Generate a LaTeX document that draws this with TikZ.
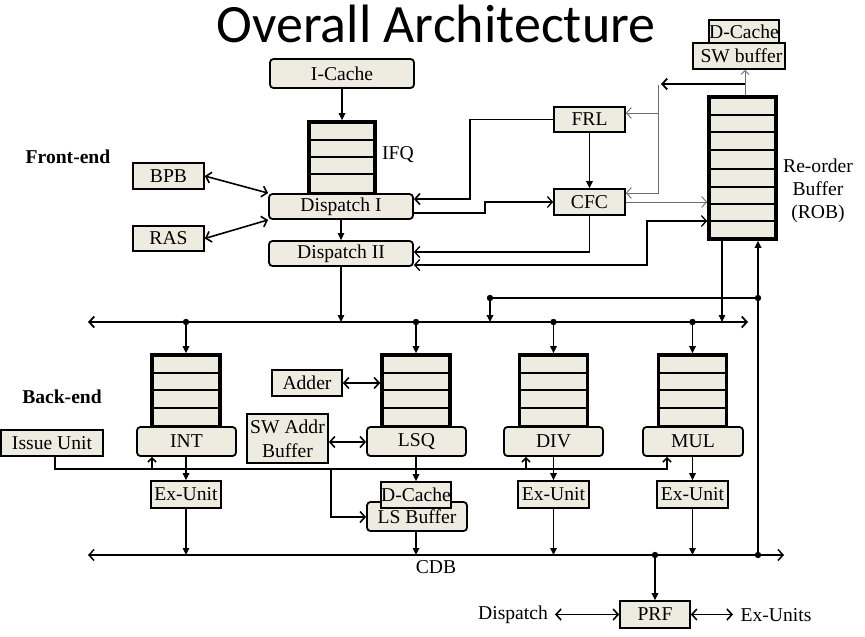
\documentclass[tikz,border=0pt]{standalone}
\usepackage{fontspec}
\setmainfont{Liberation Serif}
\newfontfamily\titlefont{Carlito}
\usetikzlibrary{arrows.meta}
\definecolor{bg}{HTML}{EEECE1}
\definecolor{thingray}{RGB}{110,110,110}
\newcommand\tsz{\fontsize{19.6}{23}\selectfont}
\tikzset{
  Chev/.tip={Straight Barb[length=5pt,width=11pt]},
  Tri/.tip={Triangle[length=7pt,width=6.5pt]},
  SmallChev/.tip={Straight Barb[length=4pt,width=8pt]}
}
\begin{document}
\begin{tikzpicture}[x=1pt,y=-1pt,
  every node/.style={font=\tsz, inner sep=0pt},
  rbox/.style={draw, fill=bg, rounded corners=3.5pt, line width=1.8pt},
  sbox/.style={draw, fill=bg, line width=1.6pt},
  queue/.style={draw, fill=bg, line width=3.6pt},
  rowline/.style={line width=2pt},
  conn/.style={line width=1.6pt},
  thinconn/.style={line width=0.9pt, draw=thingray},
  lbl/.style={font=\tsz},
  boldlbl/.style={font=\tsz\bfseries}
]
\useasboundingbox (0,0) rectangle (865,637);

% title
\node[font=\titlefont\fontsize{54}{60}\selectfont, anchor=base] (title) at (436,42) {Overall Architecture};

% ---------- front end ----------
\node[rbox, minimum width=144pt, minimum height=29pt] (icache) at (342,73.5) {I-Cache};
\node[queue, minimum width=66pt, minimum height=72pt] (ifq) at (342,158) {};
\foreach \yy in {140,157,174} \draw[rowline] (ifq.west |- 0,\yy) -- (ifq.east |- 0,\yy);
\node[rbox, minimum width=144pt, minimum height=25pt] (disp1) at (341,206.5) {Dispatch I};
\node[rbox, minimum width=144pt, minimum height=25pt] (disp2) at (341,253.5) {Dispatch II};
\node[lbl, anchor=west] (ifqlbl) at (382,155) {IFQ};
\node[boldlbl] (front) at (68,157) {Front-end};
\node[sbox, minimum width=71pt, minimum height=26pt] (bpb) at (168.5,176) {BPB};
\node[sbox, minimum width=71pt, minimum height=25pt] (ras) at (168.5,238.5) {RAS};

\node[sbox, minimum width=71pt, minimum height=25pt] (frl) at (589.5,119.5) {FRL};
\node[sbox, minimum width=71pt, minimum height=26pt] (cfc) at (589.5,202) {CFC};

% ROB
\node[queue, minimum width=67pt, minimum height=142pt] (rob) at (742.5,168) {};
\foreach \yy in {115,132,150,169,187,204,221} \draw[rowline] (rob.west |- 0,\yy) -- (rob.east |- 0,\yy);
\node[lbl, align=center] (roblbl) at (818,191) {Re-order\\Buffer\\(ROB)};

\node[sbox, minimum width=70pt, minimum height=23pt] (dctop) at (744,31.5) {D-Cache};
\node[sbox, minimum width=92pt, minimum height=26pt] (swbuf) at (739,56) {\hspace*{5pt}SW buffer};

% front-end connectors
\draw[conn, -Tri] (icache.south) -- (ifq.north);
\draw[conn, Chev-Chev] (bpb.east) -- (disp1.north west);
\draw[conn, Chev-Chev] (ras.east) -- (disp1.south west);
\draw[line width=1.2pt, -Tri] (disp1.south) -- (disp2.north);
\draw[conn, -Chev] (frl.west) -| (470,199) -- (disp1.east |- 0,199);
\draw[line width=1.3pt, -Chev] (disp1.east |- 0,213) -- (485,213) |- (cfc.west);
\draw[conn, -Tri] (frl.south) -- (cfc.north);
\draw[line width=1.3pt, -Chev] (cfc.south) |- (disp2.east |- 0,252);
\draw[line width=1.3pt, Chev-Chev] (disp2.east |- 0,265) -| (647,221) -- (rob.west |- 0,221);
\draw[thinconn, -Chev] (cfc.east) -- (rob.west |- cfc.east);
\coordinate (vtop) at (658,85);
\coordinate (vbot) at (658,193);
\draw[thinconn, -Chev] (vtop) -- (vbot) -- (cfc.east |- vbot);
\draw[thinconn, -Chev] (658,113) -- (frl.east |- 0,113);
\draw[thinconn, -SmallChev] (rob.north -| 745,0) -- (swbuf.south -| 745,0);
\coordinate (robout) at (745,84);
\coordinate (robarr) at (661,84);
\draw[line width=1.8pt, -Chev] (robout) -- (robarr);

% ---------- dispatch bus ----------
\coordinate (busL) at (88,322);
\coordinate (busR) at (748,322);
\draw[line width=1.8pt, Chev-Chev] (busL) -- (busR);
\draw[line width=1.2pt, -Tri] (disp2.south) -- (disp2.south |- busL);
\draw[line width=1.2pt, -Tri] (rob.south -| 722,0) -- (722,322);
\coordinate (cdbL) at (88,555);
\coordinate (cdbR) at (784,555);
\coordinate (jA) at (490,298);
\coordinate (jB) at (758,298);
\coordinate (jC) at (758,555);
\draw[line width=1.5pt] (jA) -- (jB);
\draw[line width=2pt, -Tri] (jA) -- (490,322);
\draw[line width=2pt, -Tri] (jC) -- (rob.south -| jC);
\foreach \p in {jA,jB,jC} \fill (\p) circle (3.2pt);

% ---------- back end ----------
\node[boldlbl] (back) at (62,397) {Back-end};
\foreach \n/\cx in {intq/186, lsqq/416, divq/553.5, mulq/692.5} {
  \node[queue, minimum width=68pt, minimum height=72pt] (\n) at (\cx,391) {};
  \foreach \yy in {373,390,408} \draw[rowline] (\n.west |- 0,\yy) -- (\n.east |- 0,\yy);
  \fill (\cx,322) circle (3.2pt);
  \draw[conn, -Tri] (\cx,322) -- (\n.north);
}
\node[rbox, minimum width=99pt, minimum height=29pt] (intb) at (186.5,441.5) {INT};
\node[rbox, minimum width=99pt, minimum height=29pt] (lsqb) at (416.5,441.5) {LSQ};
\node[rbox, minimum width=99pt, minimum height=29pt] (divb) at (553.5,441.5) {DIV};
\node[rbox, minimum width=100pt, minimum height=29pt] (mulb) at (693,441.5) {MUL};

\node[sbox, minimum width=70pt, minimum height=26pt] (adder) at (307,383) {Adder};
\node[sbox, minimum width=81pt, minimum height=49pt, align=center, font=\fontsize{19.6}{24}\selectfont] (swaddr) at (287.5,438.5) {SW Addr\\Buffer};
\node[sbox, minimum width=102pt, minimum height=26pt] (issue) at (52,443) {Issue Unit};

\draw[conn, Chev-Chev] (adder.east) -- (lsqq.west |- adder.east);
\draw[conn, Chev-Chev] (swaddr.east |- 0,442) -- (lsqb.west |- 0,442);

% issue line
\coordinate (iss0) at (55,469);
\coordinate (iss1) at (668,469);
\draw[conn] (issue.south -| iss0) -- (iss0) -- (iss1);
\draw[conn, -SmallChev] (152,469) -- (intb.south -| 152,0);
\draw[conn, -SmallChev] (526,469) -- (divb.south -| 526,0);
\draw[conn, -SmallChev] (667,469) -- (mulb.south -| 667,0);

% exec units
\node[sbox, minimum width=70pt, minimum height=27pt] (exint) at (186,494.5) {Ex-Unit};
\node[sbox, minimum width=71pt, minimum height=27pt] (exdiv) at (553.5,494.5) {Ex-Unit};
\node[sbox, minimum width=71pt, minimum height=27pt] (exmul) at (692.5,494.5) {Ex-Unit};
\node[rbox, minimum width=100pt, minimum height=29pt] (lsbuf) at (417,516.5) {\raisebox{-5pt}{LS Buffer}};
\node[sbox, minimum width=70pt, minimum height=26pt] (dclow) at (416,495) {D-Cache};

\draw[conn, -Chev] (331,469) |- (lsbuf.west |- 0,517);
\draw[conn, -Tri] (intb.south -| exint.north) -- (exint.north);
\draw[conn, -Tri] (lsqb.south -| dclow.north) -- (dclow.north);
\draw[conn, -Tri] (divb.south -| exdiv.north) -- (exdiv.north);
\draw[conn, -Tri] (mulb.south -| exmul.north) -- (exmul.north);

% CDB
\draw[line width=1.5pt, Chev-Chev] (cdbL) -- (cdbR);
\node[lbl] (cdblbl) at (436,567) {CDB};
\draw[conn, -Tri] (exint.south) -- (exint.south |- cdbL);
\draw[conn, -Tri] (lsbuf.south -| 416,0) -- (416,555);
\draw[conn, -Tri] (exdiv.south) -- (exdiv.south |- cdbL);
\draw[conn, -Tri] (exmul.south) -- (exmul.south |- cdbL);

% PRF
\node[sbox, minimum width=70pt, minimum height=27pt] (prf) at (655,614.5) {PRF};
\coordinate (prfj) at (655,555);
\fill (prfj) circle (3.2pt);
\draw[conn, -Tri] (prfj) -- (prf.north);
\node[lbl] (displ) at (513,615) {Dispatch};
\node[lbl] (exul) at (776,615) {Ex-Units};
\draw[conn, Chev-Chev] (555,614.5) -- (prf.west);
\draw[conn, Chev-Chev] (prf.east) -- (733,614.5);
\end{tikzpicture}
\end{document}
